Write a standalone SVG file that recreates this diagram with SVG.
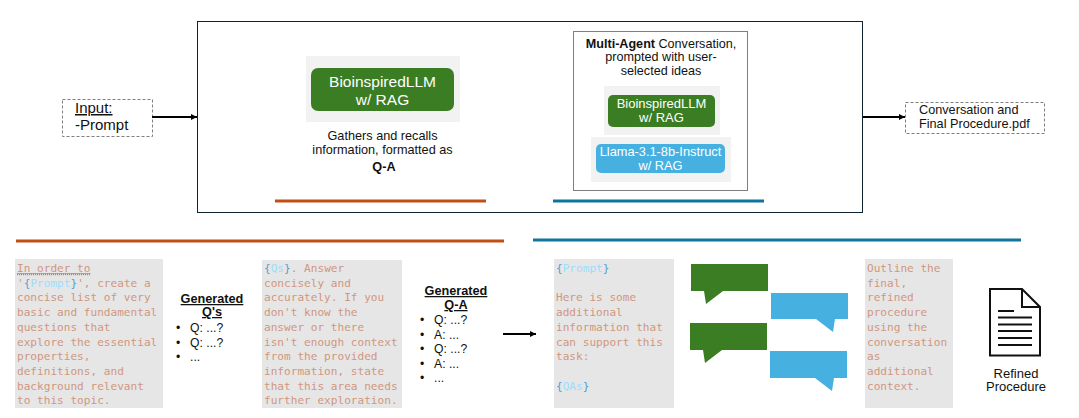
<svg xmlns="http://www.w3.org/2000/svg" width="1079" height="418" viewBox="0 0 1079 418">
<style>
text{font-family:"Liberation Sans",Arial,sans-serif;fill:#111}
.m{text-anchor:middle}
.code{font-family:"DejaVu Sans Mono","Liberation Mono",monospace;font-size:11.1px;fill:#d0967e}
.b{fill:#569cd6}.v{fill:#9cdcfe}
.grey{fill:#e7e6e6}.pale{fill:#f2f2f2}
.green{fill:#3b7d23}.blue{fill:#46b1e1}
.dash{fill:#fff;stroke:#7f7f7f;stroke-width:1;stroke-dasharray:3 2}
.head{font-weight:bold;text-decoration:underline;font-size:12.7px}
.li{font-size:12.2px}
.con{stroke:#000;stroke-width:2;fill:none;marker-end:url(#ah)}
.bar{stroke-width:3;fill:none}
.doc{stroke:#111;fill:none;stroke-width:2}
</style>
<defs><marker id="ah" markerUnits="userSpaceOnUse" markerWidth="6" markerHeight="6" refX="6" refY="3" orient="auto"><path d="M0 0L6 3L0 6z" fill="#000"/></marker></defs>
<rect width="1079" height="418" fill="#fff"/>
<g id="main-box"><rect x="197.500" y="21.500" width="665" height="191" fill="#fff" stroke="#0e2230" stroke-width="1"/></g>
<g id="input"><rect class="dash" x="62.500" y="99.500" width="90" height="37"/><text x="75" y="113" font-size="15" text-decoration="underline">Input:</text><text x="75" y="130" font-size="15">-Prompt</text></g>
<g id="output"><rect class="dash" x="905.500" y="102.500" width="139" height="31"/><text x="919" y="113.500" font-size="12.700">Conversation and</text><text x="919" y="127.500" font-size="12.700">Final Procedure.pdf</text></g>
<g id="llm-main"><rect class="pale" x="306" y="56" width="154" height="66"/><rect class="green" x="311" y="68" width="143" height="43" rx="7"/><text class="m" x="382.500" y="87" font-size="15.500" style="fill:#fff">BioinspiredLLM</text><text class="m" x="382.500" y="105" font-size="15.500" style="fill:#fff">w/ RAG</text></g>
<g id="gather"><text class="m" x="382.500" y="140" font-size="12.700">Gathers and recalls</text><text class="m" x="382.500" y="154" font-size="12.700">information, formatted as</text><text class="m" x="384" y="171" font-size="12.700" font-weight="bold">Q-A</text></g>
<g id="multi-agent"><rect x="573.500" y="31.500" width="174" height="159" fill="#fff" stroke="#7f7f7f" stroke-width="1"/><text class="m" x="661" y="48" font-size="12.600"><tspan font-weight="bold">Multi-Agent</tspan> Conversation,</text><text class="m" x="661" y="61" font-size="12.600">prompted with user-</text><text class="m" x="661" y="75" font-size="12.600">selected ideas</text></g>
<g id="llm-agent"><rect class="pale" x="604" y="86" width="116" height="49"/><rect class="green" x="608" y="95" width="107" height="32" rx="5"/><text class="m" x="661.500" y="108" font-size="13" style="fill:#fff">BioinspiredLLM</text><text class="m" x="661.500" y="122" font-size="13" style="fill:#fff">w/ RAG</text></g>
<g id="llama-agent"><rect class="pale" x="591" y="137" width="140" height="45"/><rect class="blue" x="596" y="144" width="129" height="29" rx="5"/><text class="m" x="660.500" y="156" font-size="12.800" style="fill:#fff">Llama-3.1-8b-Instruct</text><text class="m" x="660.500" y="170" font-size="12.800" style="fill:#fff">w/ RAG</text></g>
<g id="connectors">
<path class="con" d="M152 117H197"/><path class="con" d="M863 117H905"/><path class="con" d="M503 334H536"/>
</g>
<g id="bars">
<path class="bar" stroke="#c04f15" d="M275 201H486"/><path class="bar" stroke="#0f759f" d="M553 201H764"/>
<path class="bar" stroke="#c04f15" d="M16 241H504"/><path class="bar" stroke="#0f759f" d="M533 240H1021"/>
</g>
<g id="prompt-questions"><rect class="grey" x="15" y="259" width="148" height="149"/>
<text class="code" x="17" y="272" text-decoration="underline">In order to</text>
<path d="M17 274.500H91" stroke="#bf8f00" stroke-width="1.500" stroke-dasharray="1 1"/>
<text class="code" x="17" y="286.500">'<tspan class="b">{</tspan><tspan class="v">Prompt</tspan><tspan class="b">}</tspan>', create a</text>
<text class="code" x="17" y="301">concise list of very</text>
<text class="code" x="17" y="316">basic and fundamental</text>
<text class="code" x="17" y="330.500">questions that</text>
<text class="code" x="17" y="345.500">explore the essential</text>
<text class="code" x="17" y="360">properties,</text>
<text class="code" x="17" y="374.500">definitions, and</text>
<text class="code" x="17" y="389.500">background relevant</text>
<text class="code" x="17" y="404">to this topic.</text></g>
<g id="generated-q"><text class="head m" x="212" y="303">Generated</text><text class="head m" x="212" y="316">Q's</text>
<text class="li" x="176" y="332">•</text><text class="li" x="190" y="332">Q: ...?</text>
<text class="li" x="176" y="347">•</text><text class="li" x="190" y="347">Q: ...?</text>
<text class="li" x="176" y="361">•</text><text class="li" x="190" y="361">...</text></g>
<g id="prompt-answers"><rect class="grey" x="262" y="260" width="140" height="148"/>
<text class="code" x="264" y="272"><tspan class="b">{</tspan><tspan class="v">Qs</tspan><tspan class="b">}</tspan>. Answer</text>
<text class="code" x="264" y="286.500">concisely and</text>
<text class="code" x="264" y="301">accurately. If you</text>
<text class="code" x="264" y="316">don't know the</text>
<text class="code" x="264" y="330.500">answer or there</text>
<text class="code" x="264" y="345.500">isn't enough context</text>
<text class="code" x="264" y="360">from the provided</text>
<text class="code" x="264" y="374.500">information, state</text>
<text class="code" x="264" y="389.500">that this area needs</text>
<text class="code" x="264" y="404">further exploration.</text></g>
<g id="generated-qa"><text class="head m" x="456" y="295">Generated</text><text class="head m" x="456" y="309">Q-A</text>
<text class="li" x="420" y="324">•</text><text class="li" x="434" y="324">Q: ...?</text>
<text class="li" x="420" y="339">•</text><text class="li" x="434" y="339">A: ...</text>
<text class="li" x="420" y="353">•</text><text class="li" x="434" y="353">Q: ...?</text>
<text class="li" x="420" y="368">•</text><text class="li" x="434" y="368">A: ...</text>
<text class="li" x="420" y="382">•</text><text class="li" x="434" y="382">...</text></g>
<g id="prompt-support"><rect class="grey" x="554" y="259" width="120" height="149"/>
<text class="code" x="556" y="272"><tspan class="b">{</tspan><tspan class="v">Prompt</tspan><tspan class="b">}</tspan></text>
<text class="code" x="556" y="301">Here is some</text>
<text class="code" x="556" y="316">additional</text>
<text class="code" x="556" y="330.500">information that</text>
<text class="code" x="556" y="345.500">can support this</text>
<text class="code" x="556" y="360">task:</text>
<text class="code" x="556" y="389.500"><tspan class="b">{</tspan><tspan class="v">QAs</tspan><tspan class="b">}</tspan></text></g>
<g id="chat">
<path class="green" d="M691 264H768V291H723L706 304L704 291H691z"/>
<path class="blue" d="M771 293H848V319H835L833 332L816 319H771z"/>
<path class="green" d="M690 323H767V350H722L705 363L703 350H690z"/>
<path class="blue" d="M770 351H847V378H834L832 391L815 378H770z"/>
</g>
<g id="prompt-final"><rect class="grey" x="865" y="259" width="88" height="149"/>
<text class="code" x="867" y="272">Outline the</text>
<text class="code" x="867" y="286.500">final,</text>
<text class="code" x="867" y="301">refined</text>
<text class="code" x="867" y="316">procedure</text>
<text class="code" x="867" y="330.500">using the</text>
<text class="code" x="867" y="345.500">conversation</text>
<text class="code" x="867" y="360">as</text>
<text class="code" x="867" y="374.500">additional</text>
<text class="code" x="867" y="389.500">context.</text></g>
<g id="refined-procedure">
<path class="doc" d="M990 289H1022L1040 307V355.500H990zM1022 289V307H1040"/>
<path class="doc" stroke-width="1.500" d="M998 311H1014M998 317.500H1032M998 324.500H1032M998 331H1032M998 338H1032M998 345H1032"/>
<text class="m" x="1016" y="378" font-size="13">Refined</text><text class="m" x="1016" y="391" font-size="13">Procedure</text>
</g>
</svg>
